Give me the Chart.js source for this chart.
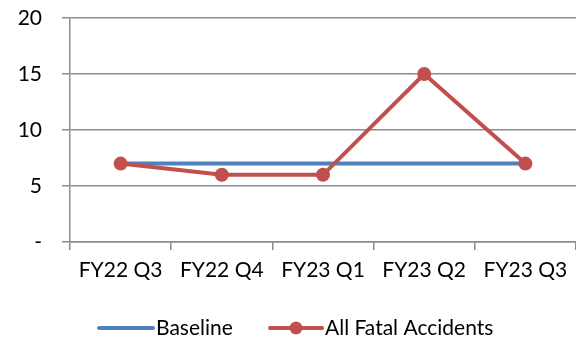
<!DOCTYPE html>
<html>
<head>
<meta charset="utf-8">
<script src="https://cdn.jsdelivr.net/npm/chart.js@4"></script>
<style>
  html, body { margin: 0; padding: 0; background: #fff; }
  #wrap { width: 576px; height: 343px; }
</style>
</head>
<body>
<div id="wrap"><canvas id="chart" width="576" height="343"></canvas></div>
<script>
const quarters = ['FY22 Q3', 'FY22 Q4', 'FY23 Q1', 'FY23 Q2', 'FY23 Q3'];
const baseline = [7, 7, 7, 7, 7];
const fatalAccidents = [7, 6, 6, 15, 7];
const yTicks = [0, 5, 10, 15, 20];

const FONT = 'Lato, "Open Sans", sans-serif';
const GRID = '#8c8c8c';

// legend drawn by hand so the red entry gets a line with a dot
const bottomLegend = {
    id: 'bottomLegend',
    afterDraw(chart) {
        const ctx = chart.ctx;
        const y = 328;
        ctx.save();
        ctx.lineCap = 'round';
        ctx.lineWidth = 4;
        ctx.strokeStyle = '#4f81bd';
        ctx.beginPath(); ctx.moveTo(99, y); ctx.lineTo(153, y); ctx.stroke();
        ctx.strokeStyle = '#c0504d';
        ctx.beginPath(); ctx.moveTo(270, y); ctx.lineTo(322, y); ctx.stroke();
        ctx.fillStyle = '#c0504d';
        ctx.beginPath(); ctx.arc(296, y, 6.5, 0, Math.PI * 2); ctx.fill();
        ctx.fillStyle = '#000';
        ctx.font = '21px ' + FONT;
        ctx.textBaseline = 'middle';
        ctx.fillText('Baseline', 156, y);
        ctx.fillText('All Fatal Accidents', 325, y);
        ctx.restore();
    }
};

new Chart(document.getElementById('chart'), {
    type: 'line',
    data: {
        labels: quarters,
        datasets: [{
            label: 'Baseline',
            data: baseline,
            borderColor: '#4f81bd',
            borderWidth: 4,
            pointRadius: 0,
            tension: 0,
            order: 1
        }, {
            label: 'All Fatal Accidents',
            data: fatalAccidents,
            borderColor: '#c0504d',
            backgroundColor: '#c0504d',
            borderWidth: 4,
            pointRadius: 7,
            pointBorderWidth: 0,
            tension: 0,
            order: 0
        }]
    },
    plugins: [bottomLegend],
    options: {
        responsive: false,
        animation: false,
        layout: { autoPadding: false, padding: { top: 18, right: 0, bottom: 40, left: 0 } },
        plugins: { legend: { display: false }, tooltip: { enabled: false } },
        scales: {
            x: {
                offset: true,
                afterFit: s => { s.height = 61; s.paddingLeft = 0; s.paddingRight = 0; },
                grid: { offset: true, drawOnChartArea: false, drawTicks: true, tickLength: 8, color: GRID, lineWidth: 1.5 },
                border: { display: true, color: GRID, width: 1.5 },
                ticks: { color: '#000', font: { family: FONT, size: 21 }, padding: 8, maxRotation: 0 }
            },
            y: {
                min: 0,
                max: 20,
                afterFit: s => { s.width = 70; s.paddingTop = 0; s.paddingBottom = 0; },
                afterBuildTicks: s => { s.ticks = yTicks.map(v => ({ value: v })); },
                grid: { color: GRID, lineWidth: 1.5, tickLength: 8 },
                border: { display: true, color: GRID, width: 1.5 },
                ticks: {
                    color: '#000',
                    font: { family: FONT, size: 21 },
                    padding: 20,
                    callback: v => v === 0 ? '-' : v
                }
            }
        }
    }
});
</script>
</body>
</html>
